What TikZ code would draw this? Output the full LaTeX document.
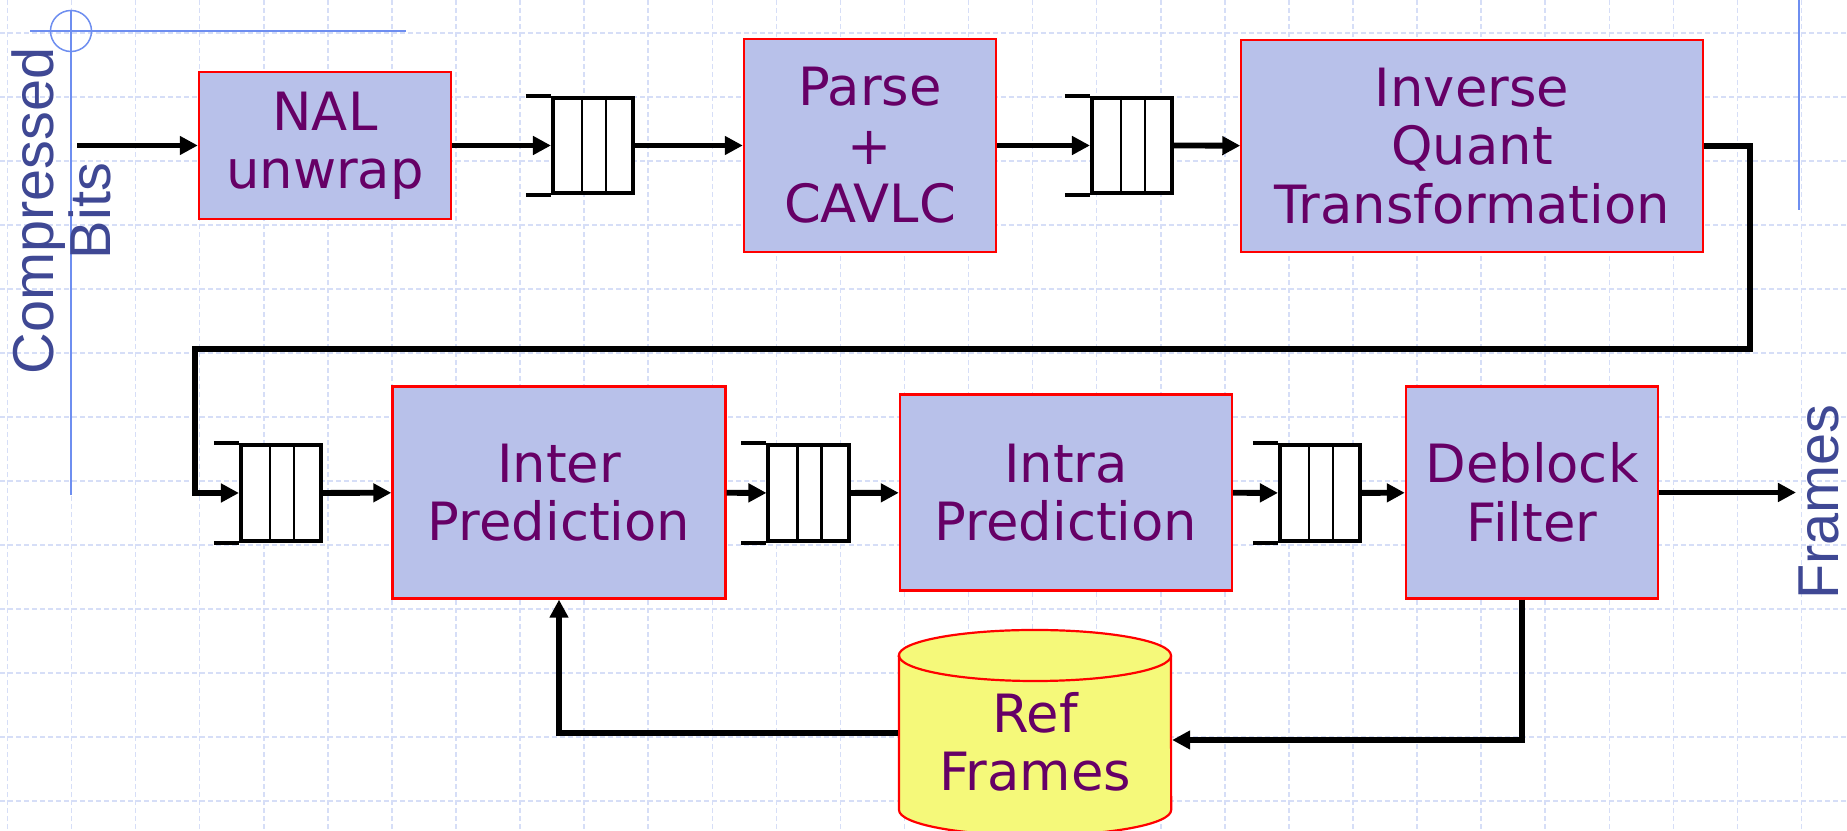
\documentclass[tikz,border=0pt]{standalone}
\usepackage{fontspec}
\usetikzlibrary{arrows.meta}

\newfontfamily\boxfont{DejaVu Sans}
\newfontfamily\sidefont{Liberation Sans}

\definecolor{boxfill}{RGB}{184,193,234}
\definecolor{boxred}{RGB}{255,0,0}
\definecolor{txtpurple}{RGB}{102,0,102}
\definecolor{sideblue}{RGB}{63,72,148}
\definecolor{decoblue}{RGB}{110,142,240}
\definecolor{reffill}{RGB}{245,249,122}
\definecolor{gridcol}{RGB}{214,222,247}

\tikzset{
    >={Triangle[length=0.18cm,width=0.18cm]},
    stage/.style={draw=boxred, fill=boxfill, line width=0.022cm, text=txtpurple,
        font=\boxfont\fontsize{15}{16.6}\selectfont, align=center, inner sep=0pt},
    fifo/.style={draw, fill=white, line width=0.04cm, minimum width=0.8cm,
        minimum height=0.95cm, inner sep=0pt},
    flow/.style={->, line width=0.058cm},
    sidetext/.style={text=sideblue, font=\sidefont\fontsize{16.4}{16.2}\selectfont,
        align=center, rotate=90, inner sep=0pt},
    gridline/.style={draw=gridcol, line width=0.015cm, dash pattern=on 0.05cm off 0.03cm},
    decor/.style={draw=decoblue, line width=0.015cm},
}

\begin{document}
\begin{tikzpicture}[x=0.01cm, y=-0.01cm]
    \clip (0,0) rectangle (1847,831) ;
    \fill [white] (0,0) rectangle (1847,831) ;

    % slide background
    \foreach \gx in {0,...,28}
        \draw [gridline] ({7.5+64.07*\gx},0) -- ({7.5+64.07*\gx},831) ;
    \foreach \gy in {0,...,12}
        \draw [gridline] (0,{33+64*\gy}) -- (1847,{33+64*\gy}) ;
    \draw [decor] (71,10) -- (71,495) ;
    \draw [decor] (30,31) -- (406,31) ;
    \draw [decor] (71,31) circle [radius=0.205cm] ;
    \draw [decor] (1799,0) -- (1799,210) ;

    \node [sidetext] (inlabel) at (61,211) {Compressed\\Bits} ;
    \node [sidetext] (outlabel) at (1819,502) {Frames} ;

    % first row
    \node [stage, minimum width=2.52cm, minimum height=1.47cm] (nal) at (325,145.5) {NAL\\unwrap} ;
    \node [fifo] (q1) at (593,145.5) {} ;
    \node [stage, minimum width=2.52cm, minimum height=2.13cm] (parse) at (870,145.5) {Parse\\+\\CAVLC} ;
    \node [fifo] (q2) at (1132,145.5) {} ;
    \node [stage, minimum width=4.61cm, minimum height=2.12cm] (iqt) at (1472,146) {Inverse\\Quant\\Transformation} ;

    % second row
    \node [fifo] (q3) at (281,493) {} ;
    \node [stage, minimum width=3.33cm, minimum height=2.12cm] (inter) at (559,492.5) {Inter\\Prediction} ;
    \node [fifo] (q4) at (808.5,493) {} ;
    \node [stage, minimum width=3.32cm, minimum height=1.96cm] (intra) at (1066,492.5) {Intra\\Prediction} ;
    \node [fifo] (q5) at (1320,493) {} ;
    \node [stage, minimum width=2.52cm, minimum height=2.12cm] (dbf) at (1532,492.5) {Deblock\\Filter} ;

    \foreach \q in {q1,q2,q3,q4,q5} {
        \draw [line width=0.04cm] ([xshift=-0.25cm]\q.north west) -- (\q.north west) ;
        \draw [line width=0.04cm] ([xshift=-0.25cm]\q.south west) -- (\q.south west) ;
        \draw [line width=0.022cm] ([xshift=0.31cm]\q.north west) -- ([xshift=0.31cm]\q.south west) ;
        \draw [line width=0.022cm] ([xshift=0.55cm]\q.north west) -- ([xshift=0.55cm]\q.south west) ;
    }

    % reference frame store
    \draw [draw=boxred, fill=reffill, line width=0.022cm] (899,655.5) -- (899,810)
        arc [start angle=180, end angle=360, x radius=1.36cm, y radius=0.255cm]
        -- (1171,655.5)
        arc [start angle=0, end angle=180, x radius=1.36cm, y radius=0.255cm] -- cycle ;
    \draw [draw=boxred, line width=0.022cm] (899,655.5)
        arc [start angle=180, end angle=360, x radius=1.36cm, y radius=0.255cm] ;
    \node [stage, draw=none, fill=none, minimum width=2.72cm] (ref) at (1035,742) {Ref\\Frames} ;

    % connections
    \coordinate (bitsin) at (77,145.5) ;
    \coordinate (framesout) at (1796,492.5) ;
    \coordinate (wrapR) at (1750,349) ;
    \coordinate (wrapL) at (195,349) ;
    \draw [flow] (bitsin) -- (nal) ;
    \draw [flow] (nal) -- (q1) ;
    \draw [flow] (q1) -- (parse) ;
    \draw [flow] (parse) -- (q2) ;
    \draw [flow] (q2) -- (iqt) ;
    \draw [flow] (iqt.east) -| (wrapR) -- (wrapL) |- (q3.west) ;
    \draw [flow] (q3) -- (inter) ;
    \draw [flow] (inter) -- (q4) ;
    \draw [flow] (q4) -- (intra) ;
    \draw [flow] (intra) -- (q5) ;
    \draw [flow] (q5) -- (dbf) ;
    \draw [flow] (dbf) -- (framesout) ;
    \draw [flow] ([xshift=-0.1cm]dbf.south) |- ([yshift=0.02cm]ref.east) ;
    \draw [flow] ([yshift=0.09cm]ref.west) -| (inter.south) ;
\end{tikzpicture}
\end{document}
